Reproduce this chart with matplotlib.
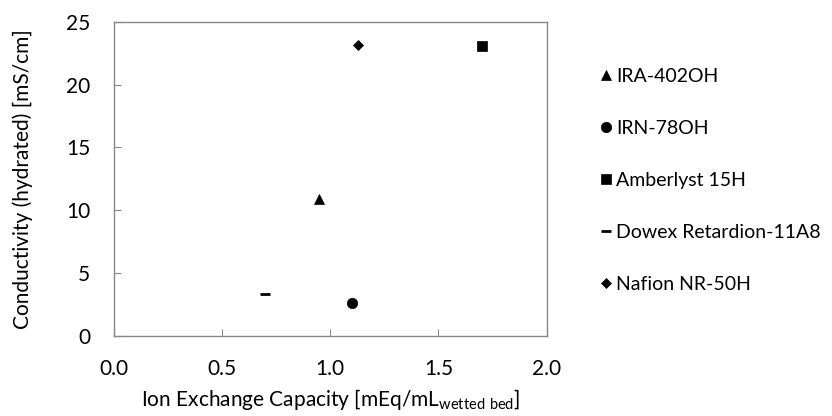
import matplotlib
matplotlib.use('Agg')
import matplotlib.pyplot as plt

# Data
resins = ['IRA-402OH', 'IRN-78OH', 'Amberlyst 15H', 'Dowex Retardion-11A8', 'Nafion NR-50H']
capacity = [0.95, 1.10, 1.70, 0.70, 1.13]
conductivity = [10.9, 2.6, 23.1, 3.3, 23.2]
markers = ['^', 'o', 's', '_', 'D']
sizes = [7, 7.5, 6.5, 7, 5]

plt.rcParams['font.family'] = ['Lato', 'DejaVu Sans']
plt.rcParams['mathtext.default'] = 'regular'
fs = 15

fig = plt.figure(figsize=(8.32, 4.16), dpi=100)
ax = fig.add_axes([0.137, 0.1935, 0.52, 0.7535])

for name, x, y, m, s in zip(resins, capacity, conductivity, markers, sizes):
    ax.plot(x, y, linestyle='none', marker=m, markersize=s, color='black',
            markeredgewidth=2 if m == '_' else 0.5, label=name)

ax.set_xlim(0, 2)
ax.set_ylim(0, 25)
ax.set_xticks([0, 0.5, 1.0, 1.5, 2.0])
ax.set_xticklabels(['0.0', '0.5', '1.0', '1.5', '2.0'])
ax.set_yticks([0, 5, 10, 15, 20, 25])

for sp in ax.spines.values():
    sp.set_color('#888888')
    sp.set_linewidth(1)
ax.tick_params(direction='in', length=5, color='#888888', labelsize=fs)
ax.tick_params(axis='x', pad=17)
ax.tick_params(axis='y', pad=17)

ax.set_xlabel('Ion Exchange Capacity [mEq/mL$_{wetted\\ bed}$]', fontsize=fs, labelpad=6)
ax.set_ylabel('Conductivity (hydrated) [mS/cm]', fontsize=fs, labelpad=24)

ax.legend(loc='upper left', bbox_to_anchor=(1.125, 0.854), frameon=False,
          fontsize=14, handlelength=0.5, handletextpad=0.3, labelspacing=1.8,
          borderaxespad=0, borderpad=0)

fig.savefig('out.png', dpi=100)
